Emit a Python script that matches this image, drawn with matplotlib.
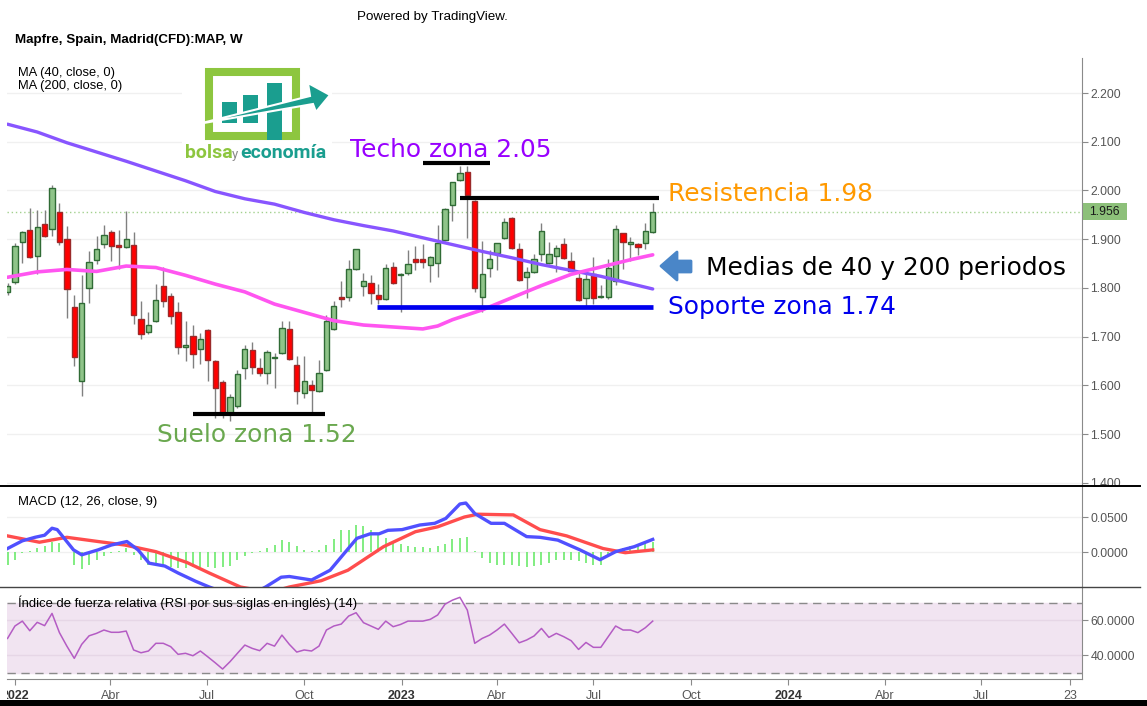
import numpy as np
import pandas as pd
import matplotlib
matplotlib.use("Agg")
import matplotlib.pyplot as plt
import matplotlib.dates as mdates
from matplotlib.patches import Rectangle, Polygon
from matplotlib.transforms import Bbox, TransformedBbox, blended_transform_factory

W, H = 1147, 706

# --------------------- Data ---------------------
weeks = pd.date_range("2021-12-25", periods=88, freq="7D")

opens = [1.792, 1.812, 1.894, 1.919, 1.866, 1.932, 1.922, 1.956, 1.900, 1.760,
         1.610, 1.800, 1.858, 1.891, 1.915, 1.889, 1.884, 1.889, 1.736, 1.709,
         1.732, 1.805, 1.783, 1.751, 1.679, 1.702, 1.674, 1.713, 1.651, 1.608,
         1.542, 1.558, 1.635, 1.672, 1.636, 1.625, 1.656, 1.667, 1.715, 1.643,
         1.585, 1.602, 1.588, 1.632, 1.715, 1.781, 1.781, 1.839, 1.805, 1.810,
         1.785, 1.778, 1.844, 1.826, 1.831, 1.859, 1.859, 1.848, 1.852, 1.899,
         1.971, 2.022, 2.037, 1.978, 1.782, 1.842, 1.871, 1.903, 1.944, 1.880,
         1.823, 1.833, 1.869, 1.852, 1.866, 1.890, 1.856, 1.820, 1.780, 1.829,
         1.781, 1.782, 1.815, 1.912, 1.890, 1.890, 1.892, 1.915]
highs = [1.810, 1.893, 1.917, 1.964, 1.961, 1.961, 2.012, 1.975, 1.927, 1.785,
         1.827, 1.876, 1.906, 1.929, 1.918, 1.918, 1.958, 1.915, 1.773, 1.750,
         1.809, 1.844, 1.790, 1.771, 1.733, 1.724, 1.708, 1.716, 1.652, 1.612,
         1.582, 1.631, 1.683, 1.690, 1.657, 1.672, 1.667, 1.733, 1.733, 1.660,
         1.660, 1.612, 1.653, 1.745, 1.773, 1.815, 1.857, 1.880, 1.830, 1.827,
         1.808, 1.849, 1.854, 1.830, 1.878, 1.886, 1.890, 1.866, 1.929, 1.965,
         2.018, 2.050, 2.050, 1.980, 1.897, 1.878, 1.893, 1.944, 1.946, 1.893,
         1.844, 1.869, 1.934, 1.895, 1.888, 1.903, 1.873, 1.835, 1.829, 1.863,
         1.807, 1.859, 1.929, 1.913, 1.905, 1.892, 1.934, 1.975]
lows = [1.785, 1.808, 1.852, 1.862, 1.828, 1.904, 1.906, 1.888, 1.739, 1.640,
        1.579, 1.770, 1.850, 1.883, 1.855, 1.838, 1.882, 1.726, 1.695, 1.705,
        1.730, 1.760, 1.726, 1.664, 1.650, 1.636, 1.644, 1.610, 1.534, 1.534,
        1.527, 1.554, 1.614, 1.624, 1.619, 1.604, 1.594, 1.665, 1.652, 1.562,
        1.575, 1.540, 1.586, 1.630, 1.713, 1.760, 1.774, 1.837, 1.784, 1.767,
        1.767, 1.776, 1.808, 1.750, 1.827, 1.837, 1.840, 1.812, 1.822, 1.897,
        1.937, 2.020, 1.903, 1.791, 1.750, 1.822, 1.837, 1.900, 1.880, 1.815,
        1.780, 1.831, 1.856, 1.850, 1.832, 1.860, 1.834, 1.774, 1.764, 1.767,
        1.779, 1.778, 1.807, 1.839, 1.856, 1.868, 1.880, 1.913]
closes = [1.805, 1.887, 1.915, 1.863, 1.925, 1.906, 2.005, 1.894, 1.797, 1.659,
          1.769, 1.854, 1.881, 1.908, 1.886, 1.884, 1.900, 1.745, 1.706, 1.724,
          1.775, 1.773, 1.742, 1.679, 1.684, 1.664, 1.696, 1.653, 1.594, 1.542,
          1.577, 1.623, 1.674, 1.638, 1.625, 1.669, 1.659, 1.717, 1.655, 1.588,
          1.610, 1.590, 1.626, 1.732, 1.764, 1.778, 1.839, 1.880, 1.814, 1.790,
          1.778, 1.841, 1.810, 1.829, 1.849, 1.854, 1.854, 1.864, 1.893, 1.963,
          2.018, 2.035, 1.990, 1.800, 1.829, 1.859, 1.893, 1.936, 1.882, 1.816,
          1.832, 1.859, 1.916, 1.869, 1.882, 1.861, 1.835, 1.776, 1.818, 1.780,
          1.783, 1.842, 1.920, 1.895, 1.895, 1.885, 1.916, 1.956]
last_price = 1.956

# moving averages, sampled at week offsets from the first candle
ma200_pos = [0, 4, 8, 12, 16, 20, 24, 28, 32, 36, 40, 44, 48, 52, 56, 60, 64, 68, 72, 76, 80, 84, 87]
ma200_vals = [2.136, 2.120, 2.098, 2.079, 2.060, 2.040, 2.020, 1.998, 1.983, 1.972, 1.955, 1.940,
              1.928, 1.917, 1.903, 1.889, 1.875, 1.862, 1.848, 1.836, 1.824, 1.809, 1.798]
ma40_pos = [0, 4, 8, 12, 16, 20, 24, 28, 32, 36, 40, 44, 48, 52, 56, 58, 60, 64, 68, 72, 76, 80, 84, 87]
ma40_vals = [1.822, 1.833, 1.838, 1.834, 1.845, 1.842, 1.826, 1.808, 1.792, 1.767, 1.750, 1.733,
             1.724, 1.720, 1.716, 1.722, 1.735, 1.755, 1.780, 1.805, 1.828, 1.843, 1.858, 1.868]

# MACD (12, 26, 9)
macd_pos = [0, 2, 3.7, 5, 6, 6.7, 8.9, 10, 12.2, 14, 16.1, 17.6, 19.1, 21.2, 23, 25.4, 27.2, 29,
            31, 33, 34.8, 36.9, 38, 41, 43.5, 47.1, 48.9, 50.1, 51.3, 53.2, 55.6, 57.6, 59.1,
            61, 61.8, 63, 65.2, 67, 70, 71.8, 74.2, 77.2, 79.9, 82, 84.5, 87]
macd_vals = [0.005, 0.016, 0.021, 0.024, 0.034, 0.032, 0.003, -0.004, 0.003, 0.010, 0.015, 0.003,
             -0.016, -0.020, -0.030, -0.042, -0.050, -0.057, -0.062, -0.060, -0.050, -0.036,
             -0.035, -0.040, -0.026, 0.0195, 0.026, 0.026, 0.031, 0.032, 0.0386, 0.041, 0.048,
             0.0686, 0.070, 0.055, 0.041, 0.041, 0.022, 0.021, 0.017, 0.003, -0.011, 0.0005,
             0.0076, 0.018]
signal_pos = [0, 4.3, 8, 12.2, 15.8, 20, 24.2, 27.2, 31.4, 34, 36, 38, 42.3, 45.9, 50.7, 55, 58,
              61.6, 63.4, 68.2, 71.8, 75.4, 80.3, 83.3, 87]
signal_vals = [0.023, 0.014, 0.021, 0.015, 0.010, 0.0005, -0.015, -0.030, -0.050, -0.055, -0.056,
               -0.050, -0.041, -0.026, 0.0076, 0.029, 0.036, 0.050, 0.054, 0.053, 0.032, 0.023,
               0.005, -0.001, 0.003]
hist_vals = [-0.018, -0.011, -0.002, 0.001, 0.006, 0.008, 0.014, 0.013, 0.000, -0.018,
             -0.024, -0.018, -0.011, -0.006, -0.002, 0.001, 0.006, -0.004, -0.011, -0.018,
             -0.020, -0.020, -0.021, -0.023, -0.023, -0.021, -0.021, -0.021, -0.023, -0.021,
             -0.020, -0.011, -0.005, -0.001, 0.002, 0.006, 0.010, 0.017, 0.015, 0.008,
             0.003, 0.001, 0.003, 0.010, 0.018, 0.031, 0.032, 0.038, 0.037, 0.032,
             0.027, 0.020, 0.013, 0.011, 0.008, 0.007, 0.007, 0.006, 0.008, 0.011,
             0.019, 0.020, 0.021, 0.002, -0.009, -0.016, -0.018, -0.018, -0.018, -0.020,
             -0.021, -0.020, -0.018, -0.015, -0.012, -0.011, -0.012, -0.013, -0.016, -0.018,
             -0.018, -0.007, 0.003, 0.006, 0.008, 0.010, 0.013, 0.015]

# RSI (14)
rsi_vals = [49.5, 56.6, 59.4, 53.9, 58.7, 56.8, 63.8, 52.8, 45.1, 38.1,
            46.1, 51.0, 52.4, 54.3, 53.0, 53.0, 53.7, 42.9, 41.3, 42.3,
            46.7, 46.7, 44.8, 40.4, 41.0, 39.6, 42.3, 39.0, 35.6, 32.0,
            36.2, 41.0, 45.7, 43.8, 42.5, 46.7, 45.1, 51.4, 46.1, 41.7,
            42.9, 42.3, 45.1, 54.3, 56.6, 57.7, 62.3, 64.2, 58.5, 56.6,
            54.7, 59.4, 56.2, 57.5, 59.4, 59.4, 59.4, 60.4, 62.9, 69.1,
            71.4, 73.0, 65.7, 46.7, 49.5, 51.4, 54.3, 57.7, 52.4, 47.0,
            48.6, 50.9, 55.2, 50.1, 52.4, 50.5, 48.2, 43.2, 47.2, 44.4,
            44.4, 50.5, 56.6, 54.3, 54.3, 52.8, 55.6, 59.4]

# zones drawn on the chart: (start, end, price)
zone_techo = ("2023-01-21", "2023-03-25", 2.056)
zone_resist = ("2023-02-25", "2023-09-01", 1.985)
zone_soporte = ("2022-12-09", "2023-08-26", 1.762)
zone_suelo = ("2022-06-18", "2022-10-21", 1.542)

xtick_dates = ["2022-01-01", "2022-04-01", "2022-07-01", "2022-10-01", "2023-01-01", "2023-04-01",
               "2023-07-01", "2023-10-01", "2024-01-01", "2024-04-01", "2024-07-01", "2024-09-23"]
xtick_labels = ["2022", "Abr", "Jul", "Oct", "2023", "Abr", "Jul", "Oct", "2024", "Abr", "Jul", "23"]

# --------------------- Figure ---------------------
plt.rcParams['font.family'] = ['Liberation Sans', 'DejaVu Sans']
fig = plt.figure(figsize=(W / 100, H / 100), dpi=100)
fig.patch.set_facecolor('white')


def px_axes(x0, y0, x1, y1, **kw):
    return fig.add_axes([x0 / W, 1 - y1 / H, (x1 - x0) / W, (y1 - y0) / H], **kw)


ax = px_axes(7, 58, 1082, 486)
ax_macd = px_axes(7, 487, 1082, 587)
ax_rsi = px_axes(7, 587, 1082, 679)

x = mdates.date2num(weeks)
x0 = x[0]
xlim = (mdates.date2num(pd.Timestamp("2021-12-24 12:00")), mdates.date2num(pd.Timestamp("2024-10-04 05:00")))

for a in (ax, ax_macd, ax_rsi):
    a.set_xlim(*xlim)
    for s in ('top', 'left', 'bottom'):
        a.spines[s].set_visible(False)
    a.spines['right'].set_color('#8a8a8a')
    a.yaxis.tick_right()
    a.tick_params(axis='y', direction='out', length=4, color='#8a8a8a', labelcolor='#555555',
                  labelsize=8.8, pad=2)
    a.tick_params(axis='x', bottom=False, labelbottom=False)
    a.set_facecolor('white')

# ---- main price panel ----
ax.set_ylim(1.3938, 2.2718)
ax.set_yticks(np.arange(1.4, 2.21, 0.1))
ax.set_yticklabels([f"{v:.3f}" for v in np.arange(1.4, 2.21, 0.1)])
ax.grid(axis='y', color='#f0f0f0', lw=1)
ax.set_axisbelow(True)

o, h, l, c = map(np.array, (opens, highs, lows, closes))
up = c >= o
ax.vlines(x, l, h, color='#808080', lw=1, zorder=2)
body_bottom = np.minimum(o, c)
body_h = np.maximum(np.abs(c - o), 0.003)
ax.bar(x[up], body_h[up], bottom=body_bottom[up], width=5, color='#8fc489',
       edgecolor='#2f6b35', lw=1, zorder=3)
ax.bar(x[~up], body_h[~up], bottom=body_bottom[~up], width=5, color='#ff0000',
       edgecolor='#9b2a2a', lw=1, zorder=3)

ax.plot(x0 + 7 * np.array(ma200_pos), ma200_vals, color='#8855ff', lw=2.4, zorder=4,
        solid_capstyle='round')
ax.plot(x0 + 7 * np.array(ma40_pos), ma40_vals, color='#ff55f0', lw=2.6, zorder=4,
        solid_capstyle='round')

# last price: dotted line and green tag on the axis
ax.axhline(last_price, color='#a3d18e', lw=1, ls=(0, (1, 2)), zorder=1)
tag_tr = blended_transform_factory(ax.transAxes, ax.transData)
ax.add_patch(Rectangle((1.0008, last_price - 0.0175), 44 / 1075, 0.035, transform=tag_tr,
                       color='#8dc07a', lw=0, clip_on=False, zorder=6))
ax.text(1.0008 + 22 / 1075, last_price, f"{last_price:.3f}", transform=tag_tr,
        ha='center', va='center', fontsize=8.8, color='#1a1a1a', clip_on=False, zorder=7)


def dn(s):
    return mdates.date2num(pd.Timestamp(s))


for (s, e, p), col, lw in ((zone_techo, 'black', 3.0), (zone_resist, 'black', 3.0),
                           (zone_soporte, '#0000ee', 3.4), (zone_suelo, 'black', 3.0)):
    ax.plot([dn(s), dn(e)], [p, p], color=col, lw=lw, solid_capstyle='butt', zorder=5)

big = dict(fontsize=17.9, family='DejaVu Sans', ha='left', va='center', zorder=6)
ax.text(dn("2022-11-13"), 2.084, "Techo zona 2.05", color='#9900ff', **big)
ax.text(dn("2023-09-09"), 1.993, "Resistencia 1.98", color='#ff9900', **big)
ax.text(dn("2023-09-09"), 1.761, "Soporte zona 1.74", color='#0000ee', **big)
ax.text(dn("2022-05-15"), 1.498, "Suelo zona 1.52", color='#6aa84f', **big)
ax.text(dn("2023-10-15"), 1.841, "Medias de 40 y 200 periodos", color='black', **big)

# ---- MACD panel ----
ax_macd.set_ylim(-0.05, 0.0929)
ax_macd.set_yticks([0.0, 0.05])
ax_macd.set_yticklabels(["0.0000", "0.0500"])
ax_macd.grid(axis='y', color='#f0f0f0', lw=1)
ax_macd.set_axisbelow(True)
ax_macd.vlines(x, 0, hist_vals, color='#5fe85f', lw=1.1, zorder=2)
ax_macd.plot(x0 + 7 * np.array(signal_pos), signal_vals, color='#ff4d4d', lw=2.4, zorder=3)
ax_macd.plot(x0 + 7 * np.array(macd_pos), macd_vals, color='#5050ff', lw=2.4, zorder=4)

# ---- RSI panel ----
ax_rsi.set_ylim(26.3, 78.9)
ax_rsi.set_yticks([40, 60])
ax_rsi.set_yticklabels(["40.0000", "60.0000"])
ax_rsi.axhspan(30, 70, color='#f1e4f1', zorder=0)
ax_rsi.grid(axis='y', color='#e6d6e6', lw=1)
ax_rsi.set_axisbelow(True)
for lvl in (30, 70):
    ax_rsi.axhline(lvl, color='#8a8a8a', lw=1, ls=(0, (6, 4)), zorder=1)
ax_rsi.plot(x, rsi_vals, color='#b45cc4', lw=1.1, zorder=3)
ax_rsi.spines['bottom'].set_visible(True)
ax_rsi.spines['bottom'].set_color('#8a8a8a')
ax_rsi.set_xticks([dn(d) for d in xtick_dates])
ax_rsi.set_xticklabels(xtick_labels)
ax_rsi.tick_params(axis='x', bottom=True, labelbottom=True, direction='out', length=4,
                   color='#8a8a8a', labelcolor='#555555', labelsize=9.0, pad=4)
clip = TransformedBbox(Bbox([[7 / W, 0], [1, 1]]), fig.transFigure)
for lab in ax_rsi.get_xticklabels():
    if lab.get_text() in ("2022", "2023", "2024"):
        lab.set_fontweight('bold')
        lab.set_color('#333333')
    lab.set_clip_on(True)
    lab.set_clip_box(clip)

# ---- texts ----
fig.text(357 / W, 1 - 17 / H, "Powered by TradingView.", fontsize=9.6, va='center', ha='left')
fig.text(15 / W, 1 - 40 / H, "Mapfre, Spain, Madrid(CFD):MAP, W", fontsize=9.6,
         fontweight='bold', va='center', ha='left')
fig.text(18 / W, 1 - 73 / H, "MA (40, close, 0)", fontsize=9.3, va='center', ha='left')
fig.text(18 / W, 1 - 86 / H, "MA (200, close, 0)", fontsize=9.3, va='center', ha='left')
fig.text(18 / W, 1 - 502 / H, "MACD (12, 26, close, 9)", fontsize=9.4, va='center', ha='left')
fig.text(18 / W, 1 - 603 / H, "Índice de fuerza relativa (RSI por sus siglas en inglés) (14)",
         fontsize=9.4, va='center', ha='left', zorder=20)

# ---- overlay in pixel space: separators, logo, arrow ----
ov = fig.add_axes([0, 0, 1, 1], zorder=10)
ov.set_xlim(0, W)
ov.set_ylim(H, 0)
ov.axis('off')
ov.plot([0, 1140], [486, 486], color='black', lw=1.4)
ov.plot([0, 1140], [587, 587], color='#444444', lw=1.0)
ov.add_patch(Rectangle((0, 700), W, 6, color='black', lw=0))

# logo
ov.add_patch(Rectangle((182, 62), 150, 104, color='white', lw=0))
ov.add_patch(Rectangle((209, 72), 87, 64, fill=False, ec='#8dc63f', lw=5.8, joinstyle='miter'))
for bx, by0, by1 in ((222, 102, 123), (243, 95, 123), (267, 83, 140)):
    ov.add_patch(Rectangle((bx, by0), 15, by1 - by0, color='#1a9e8f', lw=0))
ov.add_patch(Polygon([(198, 124), (310, 96), (308, 83), (330, 95), (316, 112), (313, 104)],
                     closed=True, fc='#1a9e8f', ec='white', lw=1.5, joinstyle='miter'))
ov.text(185, 158, "bolsa", family='Roboto', fontweight='bold', fontsize=14.0, color='#8dc63f',
        ha='left', va='baseline')
ov.text(232, 158, "y", family='Roboto', fontsize=9.5, color='#8a8a8a', ha='left', va='baseline')
ov.text(240, 158, "economía", family='Roboto', fontweight='bold', fontsize=14.0, color='#1a9e8f',
        ha='left', va='baseline')

# blue arrow pointing at the averages
ov.add_patch(Polygon([(661, 266), (677, 252), (677, 261), (691, 261), (691, 272), (677, 272), (677, 280)],
                     closed=True, fc='#4a86c8', ec='#4a86c8', lw=2, joinstyle='round'))

fig.savefig("out.png", dpi=100, facecolor='white')
